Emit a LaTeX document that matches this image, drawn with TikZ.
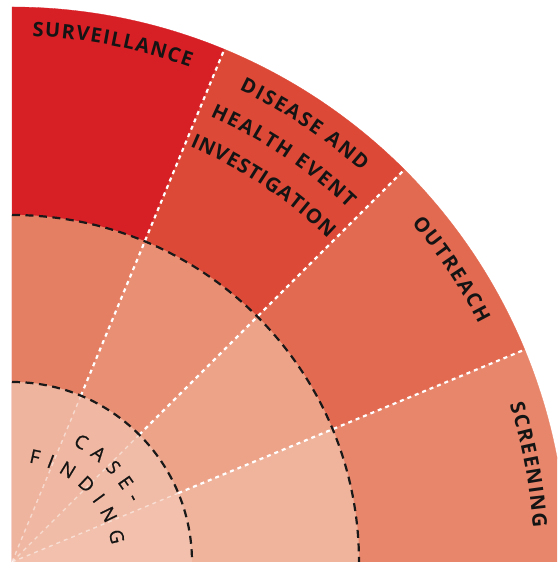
\documentclass[tikz,border=0pt]{standalone}
\usepackage{fontspec}
\newfontfamily\labfont{Open Sans}
\newfontfamily\casefont[FakeBold=0.7]{Open Sans}
\definecolor{cSurv}{HTML}{D71F26}
\definecolor{cDis}{HTML}{DC4A37}
\definecolor{cOut}{HTML}{E26A51}
\definecolor{cScr}{HTML}{E8866B}
\definecolor{mA}{HTML}{E47F63}
\definecolor{mB}{HTML}{E98F74}
\definecolor{mC}{HTML}{EDA388}
\definecolor{mD}{HTML}{F0B49D}
\definecolor{iA}{HTML}{EFB49E}
\definecolor{iB}{HTML}{F0B8A2}
\definecolor{iC}{HTML}{F1BCA7}
\definecolor{iD}{HTML}{F2C0AC}
\definecolor{txt}{HTML}{141414}
\newlength\arcw
% measure letters (outside the picture) and store the angle of each letter
\newcommand\preparc[6]{%
  \gdef\arctotal{0}%
  \foreach \ch in #6{%
    \settowidth\arcw{#5\ch}%
    \pgfmathsetmacro\arctmp{\arctotal+\the\arcw+#4}%
    \xdef\arctotal{\arctmp}}%
  \pgfmathsetmacro\arctmp{#3+(\arctotal-#4)/2/#2*180/pi}%
  \xdef\arccur{\arctmp}%
  \foreach \ch [count=\k] in #6{%
    \settowidth\arcw{#5\ch}%
    \pgfmathsetmacro\arcmid{\arccur-(\the\arcw/2)/#2*180/pi}%
    \expandafter\xdef\csname arcang#1\k\endcsname{\arcmid}%
    \pgfmathsetmacro\arctmp{\arccur-(\the\arcw+#4)/#2*180/pi}%
    \xdef\arccur{\arctmp}}%
}
\newcommand\drawarc[4]{%
  \foreach \ch [count=\k] in #4{%
    \pgfmathsetmacro\arcang{\csname arcang#1\k\endcsname}%
    \node[inner sep=0pt, anchor=base, rotate=\arcang-90, text=txt] (#1-\k) at (\arcang:#2pt) {#3\ch};}%
}
\newcommand\bigfont{\labfont\bfseries\fontsize{20}{22}\selectfont}
\newcommand\smallfont{\casefont\fontsize{19}{21}\selectfont}
\def\lSurv{S,U,R,V,E,I,L,L,A,N,C,E}
\def\lDisA{D,I,S,E,A,S,E,~,A,N,D}
\def\lDisB{H,E,A,L,T,H,~,E,V,E,N,T}
\def\lDisC{I,N,V,E,S,T,I,G,A,T,I,O,N}
\def\lOut{O,U,T,R,E,A,C,H}
\def\lScr{S,C,R,E,E,N,I,N,G}
\def\lCase{C,A,S,E,-}
\def\lFind{F,I,N,D,I,N,G}
\AtBeginDocument{%
  \preparc{surv}{526}{79.0}{1.3}{\bigfont}{\lSurv}%
  \preparc{disa}{524}{56.25}{1.8}{\bigfont}{\lDisA}%
  \preparc{disb}{488}{56.25}{1.8}{\bigfont}{\lDisB}%
  \preparc{disc}{452}{56.25}{1.0}{\bigfont}{\lDisC}%
  \preparc{outr}{524}{33.65}{1.8}{\bigfont}{\lOut}%
  \preparc{scre}{522}{10.65}{1.6}{\bigfont}{\lScr}%
  \preparc{case}{132}{44.6}{8}{\smallfont}{\lCase}%
  \preparc{find}{101}{45.1}{8}{\smallfont}{\lFind}%
}
\tikzset{
  wdash/.style={white, line width=2.2pt, dash pattern=on 4pt off 4pt},
  wfaint/.style={white, opacity=0.5, line width=1.4pt, dash pattern=on 4pt off 4pt},
  bdash/.style={black!90, line width=2.2pt, dash pattern=on 8pt off 5.5pt},
}
\begin{document}
\begin{tikzpicture}[x=1pt,y=1pt]
\useasboundingbox (0,0) rectangle (557,562);
\clip (0,0) rectangle (557,562);
\begin{scope}[shift={(12,0)}]
  % outer ring
  \foreach \a/\b/\c in {67.5/90/cSurv, 45/67.5/cDis, 22.5/45/cOut, 0/22.5/cScr}
    \fill[\c, draw=\c, line width=0.3pt] (0,0) -- (\a:555pt) arc[start angle=\a, end angle=\b, radius=555pt] -- cycle;
  % middle ring
  \foreach \a/\b/\c in {67.5/90/mA, 45/67.5/mB, 22.5/45/mC, 0/22.5/mD}
    \fill[\c, draw=\c, line width=0.3pt] (0,0) -- (\a:347pt) arc[start angle=\a, end angle=\b, radius=347pt] -- cycle;
  % inner circle
  \foreach \a/\b/\c in {67.5/90/iA, 45/67.5/iB, 22.5/45/iC, 0/22.5/iD}
    \fill[\c, draw=\c, line width=0.3pt] (0,0) -- (\a:180pt) arc[start angle=\a, end angle=\b, radius=180pt] -- cycle;
  % radial dividers
  \foreach \a in {22.5,45,67.5}{
    \draw[wdash] (\a:180pt) -- (\a:555pt);
    \draw[wfaint] (0,0) -- (\a:180pt);
  }
  % dashed rings
  \draw[bdash] (90:347pt) arc[start angle=90, end angle=0, radius=347pt];
  \draw[bdash] (90:180pt) arc[start angle=90, end angle=0, radius=180pt];
  % labels
  \drawarc{surv}{526}{\bigfont}{\lSurv}
  \drawarc{disa}{524}{\bigfont}{\lDisA}
  \drawarc{disb}{488}{\bigfont}{\lDisB}
  \drawarc{disc}{452}{\bigfont}{\lDisC}
  \drawarc{outr}{524}{\bigfont}{\lOut}
  \drawarc{scre}{522}{\bigfont}{\lScr}
  \drawarc{case}{132}{\smallfont}{\lCase}
  \drawarc{find}{101}{\smallfont}{\lFind}
\end{scope}
\end{tikzpicture}
\end{document}
